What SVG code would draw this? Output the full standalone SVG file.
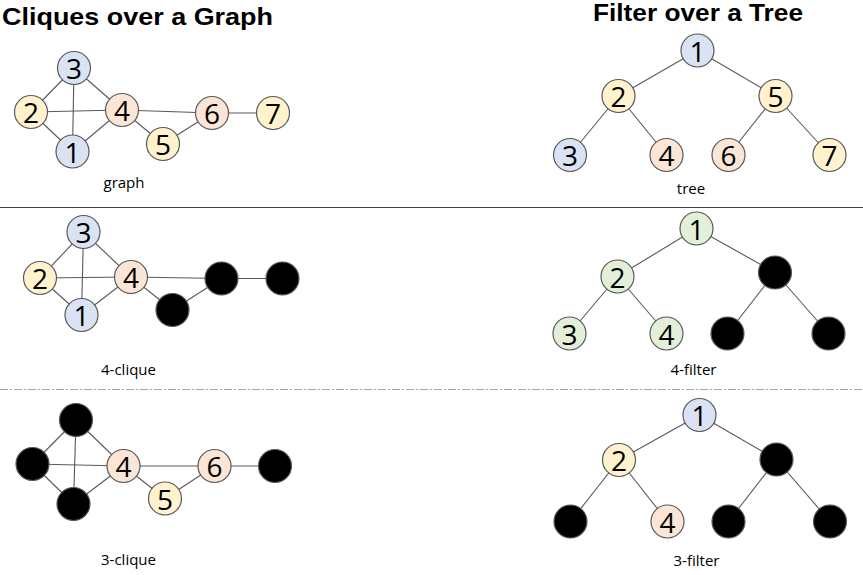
<svg xmlns="http://www.w3.org/2000/svg" width="863" height="575" viewBox="0 0 863 575">
  <style>
    .title { font-family: "Liberation Sans", "Open Sans", sans-serif; font-weight: bold; font-size: 24px; fill: #000; }
    .cap { font-family: "Open Sans", "Liberation Sans", sans-serif; font-size: 15px; fill: #000; text-anchor: middle; }
    .num { font-family: "Open Sans", "Liberation Sans", sans-serif; font-size: 28px; fill: #000; text-anchor: middle; dominant-baseline: central; }
    .edges line { stroke: #595959; stroke-width: 1.1; }
    circle { stroke: #595959; stroke-width: 1.2; }
    .blue { fill: #dae3f3; }
    .yellow { fill: #fff2cc; }
    .peach { fill: #fbe5d6; }
    .green { fill: #e2f0d9; }
    .black { fill: #000; }
  </style>
  <rect width="863" height="575" fill="#fff"/>

  <!-- headings -->
  <text class="title" x="2" y="25" textLength="271" lengthAdjust="spacingAndGlyphs">Cliques over a Graph</text>
  <text class="title" x="593" y="21" textLength="210" lengthAdjust="spacingAndGlyphs">Filter over a Tree</text>

  <!-- row separators -->
  <line x1="0" y1="207.5" x2="863" y2="207.5" stroke="#404040" stroke-width="1.2"/>
  <line x1="0" y1="389.5" x2="863" y2="389.5" stroke="#a6a6a6" stroke-width="1.2" stroke-dasharray="8 2 2 2"/>

  <!-- ===== Row 1: graph ===== -->
  <g class="edges" id="graph-edges">
    <line x1="74" y1="68" x2="31" y2="112"/>
    <line x1="74" y1="68" x2="122" y2="110"/>
    <line x1="74" y1="68" x2="72.5" y2="151.5"/>
    <line x1="31" y1="112" x2="122" y2="110"/>
    <line x1="31" y1="112" x2="72.5" y2="151.5"/>
    <line x1="72.5" y1="151.5" x2="122" y2="110"/>
    <line x1="122" y1="110" x2="163" y2="144"/>
    <line x1="122" y1="110" x2="212" y2="113"/>
    <line x1="163" y1="144" x2="212" y2="113"/>
    <line x1="212" y1="113" x2="273" y2="113"/>
  </g>
  <g id="g1-n3"><circle class="blue" cx="74" cy="68" r="16.5"/><text class="num" x="74" y="68">3</text></g>
  <g id="g1-n2"><circle class="yellow" cx="31" cy="112" r="16.5"/><text class="num" x="31" y="112">2</text></g>
  <g id="g1-n4"><circle class="peach" cx="122" cy="110" r="16.5"/><text class="num" x="122" y="110">4</text></g>
  <g id="g1-n1"><circle class="blue" cx="72.5" cy="151.5" r="16.5"/><text class="num" x="72.5" y="151.5">1</text></g>
  <g id="g1-n5"><circle class="yellow" cx="163" cy="144" r="16.5"/><text class="num" x="163" y="144">5</text></g>
  <g id="g1-n6"><circle class="peach" cx="212" cy="113" r="16.5"/><text class="num" x="212" y="113">6</text></g>
  <g id="g1-n7"><circle class="yellow" cx="273" cy="113" r="16.5"/><text class="num" x="273" y="113">7</text></g>
  <text class="cap" x="124" y="188">graph</text>

  <!-- ===== Row 1: tree ===== -->
  <g class="edges" id="tree-edges">
    <line x1="697.5" y1="50.5" x2="618.5" y2="96"/>
    <line x1="697.5" y1="50.5" x2="775.5" y2="96"/>
    <line x1="618.5" y1="96" x2="570" y2="155"/>
    <line x1="618.5" y1="96" x2="666.5" y2="155"/>
    <line x1="775.5" y1="96" x2="728.5" y2="155"/>
    <line x1="775.5" y1="96" x2="829.5" y2="155"/>
  </g>
  <g id="t1-n1"><circle class="blue" cx="697.5" cy="50.5" r="16.5"/><text class="num" x="697.5" y="50.5">1</text></g>
  <g id="t1-n2"><circle class="yellow" cx="618.5" cy="96" r="16.5"/><text class="num" x="618.5" y="96">2</text></g>
  <g id="t1-n5"><circle class="yellow" cx="775.5" cy="96" r="16.5"/><text class="num" x="775.5" y="96">5</text></g>
  <g id="t1-n3"><circle class="blue" cx="570" cy="155" r="16.5"/><text class="num" x="570" y="155">3</text></g>
  <g id="t1-n4"><circle class="peach" cx="666.5" cy="155" r="16.5"/><text class="num" x="666.5" y="155">4</text></g>
  <g id="t1-n6"><circle class="peach" cx="728.5" cy="155" r="16.5"/><text class="num" x="728.5" y="155">6</text></g>
  <g id="t1-n7"><circle class="yellow" cx="829.5" cy="155" r="16.5"/><text class="num" x="829.5" y="155">7</text></g>
  <text class="cap" x="691" y="194">tree</text>

  <!-- ===== Row 2: 4-clique ===== -->
  <g class="edges" id="clique4-edges">
    <line x1="83.5" y1="232" x2="40" y2="278"/>
    <line x1="83.5" y1="232" x2="131" y2="277"/>
    <line x1="83.5" y1="232" x2="81.5" y2="315"/>
    <line x1="40" y1="278" x2="131" y2="277"/>
    <line x1="40" y1="278" x2="81.5" y2="315"/>
    <line x1="81.5" y1="315" x2="131" y2="277"/>
    <line x1="131" y1="277" x2="172.5" y2="310"/>
    <line x1="131" y1="277" x2="221.5" y2="278.5"/>
    <line x1="172.5" y1="310" x2="221.5" y2="278.5"/>
    <line x1="221.5" y1="278.5" x2="282.5" y2="278.5"/>
  </g>
  <g id="c4-n3"><circle class="blue" cx="83.5" cy="232" r="16.5"/><text class="num" x="83.5" y="232">3</text></g>
  <g id="c4-n2"><circle class="yellow" cx="40" cy="278" r="16.5"/><text class="num" x="40" y="278">2</text></g>
  <g id="c4-n4"><circle class="peach" cx="131" cy="277" r="16.5"/><text class="num" x="131" y="277">4</text></g>
  <g id="c4-n1"><circle class="blue" cx="81.5" cy="315" r="16.5"/><text class="num" x="81.5" y="315">1</text></g>
  <g id="c4-n5"><circle class="black" cx="172.5" cy="310" r="16.5"/></g>
  <g id="c4-n6"><circle class="black" cx="221.5" cy="278.5" r="16.5"/></g>
  <g id="c4-n7"><circle class="black" cx="282.5" cy="278.5" r="16.5"/></g>
  <text class="cap" x="128.5" y="375">4-clique</text>

  <!-- ===== Row 2: 4-filter ===== -->
  <g class="edges" id="filter4-edges">
    <line x1="696.5" y1="228.5" x2="617.5" y2="276.5"/>
    <line x1="696.5" y1="228.5" x2="775" y2="272.5"/>
    <line x1="617.5" y1="276.5" x2="569.5" y2="333.5"/>
    <line x1="617.5" y1="276.5" x2="666.5" y2="333.5"/>
    <line x1="775" y1="272.5" x2="727.5" y2="333.5"/>
    <line x1="775" y1="272.5" x2="828.5" y2="333.5"/>
  </g>
  <g id="f4-n1"><circle class="green" cx="696.5" cy="228.5" r="16.5"/><text class="num" x="696.5" y="228.5">1</text></g>
  <g id="f4-n2"><circle class="green" cx="617.5" cy="276.5" r="16.5"/><text class="num" x="617.5" y="276.5">2</text></g>
  <g id="f4-n5"><circle class="black" cx="775" cy="272.5" r="16.5"/></g>
  <g id="f4-n3"><circle class="green" cx="569.5" cy="333.5" r="16.5"/><text class="num" x="569.5" y="333.5">3</text></g>
  <g id="f4-n4"><circle class="green" cx="666.5" cy="333.5" r="16.5"/><text class="num" x="666.5" y="333.5">4</text></g>
  <g id="f4-n6"><circle class="black" cx="727.5" cy="333.5" r="16.5"/></g>
  <g id="f4-n7"><circle class="black" cx="828.5" cy="333.5" r="16.5"/></g>
  <text class="cap" x="693.5" y="375">4-filter</text>

  <!-- ===== Row 3: 3-clique ===== -->
  <g class="edges" id="clique3-edges">
    <line x1="76" y1="420" x2="32.5" y2="464"/>
    <line x1="76" y1="420" x2="123.5" y2="466"/>
    <line x1="76" y1="420" x2="73.5" y2="504"/>
    <line x1="32.5" y1="464" x2="123.5" y2="466"/>
    <line x1="32.5" y1="464" x2="73.5" y2="504"/>
    <line x1="73.5" y1="504" x2="123.5" y2="466"/>
    <line x1="123.5" y1="466" x2="165" y2="498.5"/>
    <line x1="123.5" y1="466" x2="214.5" y2="466"/>
    <line x1="165" y1="498.5" x2="214.5" y2="466"/>
    <line x1="214.5" y1="466" x2="275" y2="466"/>
  </g>
  <g id="c3-n3"><circle class="black" cx="76" cy="420" r="16.5"/></g>
  <g id="c3-n2"><circle class="black" cx="32.5" cy="464" r="16.5"/></g>
  <g id="c3-n4"><circle class="peach" cx="123.5" cy="466" r="16.5"/><text class="num" x="123.5" y="466">4</text></g>
  <g id="c3-n1"><circle class="black" cx="73.5" cy="504" r="16.5"/></g>
  <g id="c3-n5"><circle class="yellow" cx="165" cy="498.5" r="16.5"/><text class="num" x="165" y="498.5">5</text></g>
  <g id="c3-n6"><circle class="peach" cx="214.5" cy="466" r="16.5"/><text class="num" x="214.5" y="466">6</text></g>
  <g id="c3-n7"><circle class="black" cx="275" cy="466" r="16.5"/></g>
  <text class="cap" x="128.5" y="565">3-clique</text>

  <!-- ===== Row 3: 3-filter ===== -->
  <g class="edges" id="filter3-edges">
    <line x1="699.5" y1="415" x2="619" y2="460"/>
    <line x1="699.5" y1="415" x2="776.5" y2="459.5"/>
    <line x1="619" y1="460" x2="570.5" y2="521.5"/>
    <line x1="619" y1="460" x2="667.5" y2="521.5"/>
    <line x1="776.5" y1="459.5" x2="728.5" y2="521.5"/>
    <line x1="776.5" y1="459.5" x2="830" y2="521.5"/>
  </g>
  <g id="f3-n1"><circle class="blue" cx="699.5" cy="415" r="16.5"/><text class="num" x="699.5" y="415">1</text></g>
  <g id="f3-n2"><circle class="yellow" cx="619" cy="460" r="16.5"/><text class="num" x="619" y="460">2</text></g>
  <g id="f3-n5"><circle class="black" cx="776.5" cy="459.5" r="16.5"/></g>
  <g id="f3-n3"><circle class="black" cx="570.5" cy="521.5" r="16.5"/></g>
  <g id="f3-n4"><circle class="peach" cx="667.5" cy="521.5" r="16.5"/><text class="num" x="667.5" y="521.5">4</text></g>
  <g id="f3-n6"><circle class="black" cx="728.5" cy="521.5" r="16.5"/></g>
  <g id="f3-n7"><circle class="black" cx="830" cy="521.5" r="16.5"/></g>
  <text class="cap" x="696.5" y="566">3-filter</text>
</svg>
